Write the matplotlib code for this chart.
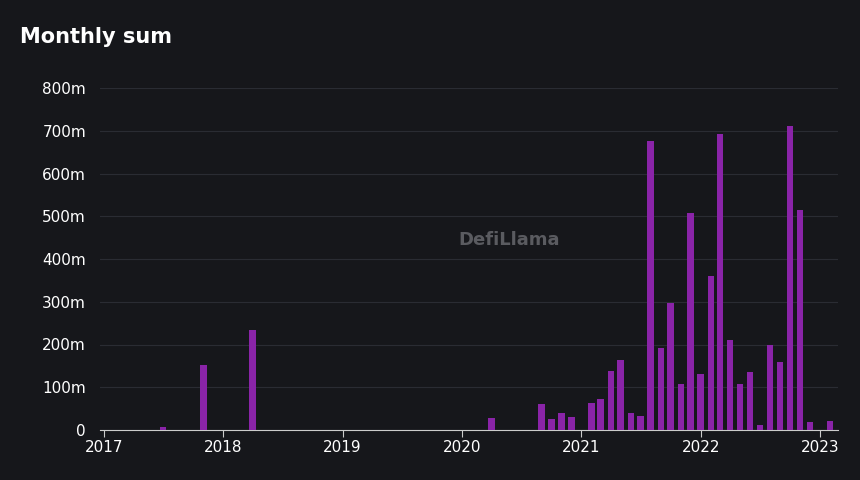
import matplotlib
matplotlib.use("Agg")
import matplotlib.pyplot as plt
import matplotlib.dates as mdates
from matplotlib.ticker import FuncFormatter
import numpy as np

months = ["2017-07", "2017-11", "2018-04", "2020-04",
          "2020-09", "2020-10", "2020-11", "2020-12", "2021-01", "2021-02",
          "2021-03", "2021-04", "2021-05", "2021-06", "2021-07", "2021-08",
          "2021-09", "2021-10", "2021-11", "2021-12", "2022-01", "2022-02",
          "2022-03", "2022-04", "2022-05", "2022-06", "2022-07", "2022-08",
          "2022-09", "2022-10", "2022-11", "2022-12", "2023-01", "2023-02"]
values_m = [7, 151, 235, 28,
            61, 25, 40, 30, 0, 64,
            73, 139, 164, 39, 33, 676,
            192, 298, 108, 507, 132, 360,
            692, 210, 107, 135, 12, 200,
            160, 712, 515, 18, 0, 22]

bg = "#16171b"
dates = np.array([np.datetime64(m + "-01") for m in months])
x = mdates.date2num(dates.astype("datetime64[D]").astype(object))

fig = plt.figure(figsize=(8.6, 4.8), dpi=100, facecolor=bg)
ax = fig.add_axes([100 / 860, 50 / 480, 738 / 860, 342 / 480], facecolor=bg)
ax.bar(x, values_m, width=20, color="#8a24a8", zorder=3)

ax.set_ylim(0, 800)
ax.set_yticks(range(0, 801, 100))
ax.yaxis.set_major_formatter(FuncFormatter(lambda v, p: "0" if v == 0 else f"{int(v)}m"))
ax.set_xlim(mdates.datestr2num("2016-12-20"), mdates.datestr2num("2023-02-25"))
ax.xaxis.set_major_locator(mdates.YearLocator())
ax.xaxis.set_major_formatter(mdates.DateFormatter("%Y"))
ax.grid(axis="y", color="#2a2c33", linewidth=0.8, zorder=0)
for s in ["top", "right", "left"]:
    ax.spines[s].set_visible(False)
ax.spines["bottom"].set_color("#cccccc")
ax.tick_params(axis="y", length=0, colors="white", labelsize=11, pad=10)
ax.tick_params(axis="x", colors="#cccccc", labelcolor="white", labelsize=11, length=5, pad=2)

fig.text(20 / 860, 1 - 37 / 480, "Monthly sum", color="white", fontsize=15,
         fontweight="bold", va="center")
fig.text(458 / 860, 1 - 240 / 480, "DefiLlama", color="#5a5b60", fontsize=13,
         fontweight="bold", va="center", zorder=5)

fig.savefig("out.png", dpi=100, facecolor=bg)
